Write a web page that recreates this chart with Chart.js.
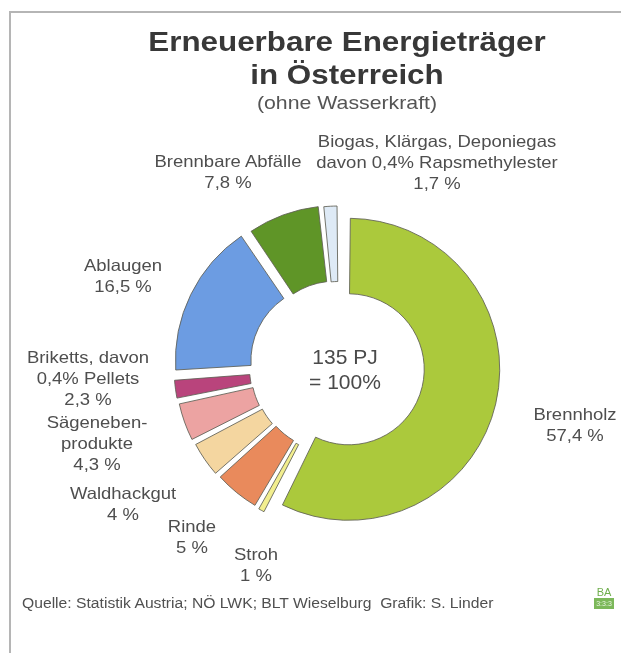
<!DOCTYPE html>
<html lang="de">
<head>
<meta charset="utf-8">
<title>Erneuerbare Energieträger in Österreich</title>
<script src="https://cdn.jsdelivr.net/npm/chart.js@4.4.1/dist/chart.umd.min.js"></script>
<style>
  html, body { margin: 0; padding: 0; background: #fff; }
  #wrap { position: relative; width: 621px; height: 653px; overflow: hidden;
          font-family: "Liberation Sans", Arial, sans-serif; color: #4e4e4e; }
  #frame { position: absolute; left: 9px; top: 11px; width: 640px; height: 660px;
           border-top: 2px solid #b5b5b5; border-left: 2px solid #b5b5b5; }
  canvas { position: absolute; left: 0; top: 0; }
  .wide { position: absolute; white-space: pre; text-align: center;
          transform: translateX(-50%) scaleX(1.12); }
  #title { left: 347px; top: 25px; font-size: 28px; font-weight: bold; line-height: 33px; color: #383838; }
  #subtitle { left: 347px; top: 92px; font-size: 19px; line-height: 22px; color: #555; }
  .lbl { font-size: 16.5px; line-height: 21px; }
  #center { position: absolute; left: 345px; top: 344px; transform: translateX(-50%);
            font-size: 21px; line-height: 25px; text-align: center; white-space: pre; color: #4a4a4a; }
  #source { position: absolute; left: 22px; top: 594px; font-size: 14px; line-height: 18px;
            white-space: pre; transform-origin: left center; transform: scaleX(1.12); color: #505050; }
  #logo { position: absolute; left: 594px; top: 586px; width: 20px; text-align: center; }
  #logo .ba { font-size: 11px; line-height: 12px; color: #6fae4c; }
  #logo .box { height: 11px; background: #7cb85a; color: #e8f4df; font-size: 7px; line-height: 11px; }
</style>
</head>
<body>
<div id="wrap">
  <div id="frame"></div>
  <canvas id="chart" width="621" height="653"></canvas>
  <div id="title" class="wide">Erneuerbare Energieträger
in Österreich</div>
  <div id="subtitle" class="wide">(ohne Wasserkraft)</div>
  <div id="center"></div>
  <div id="source">Quelle: Statistik Austria; NÖ LWK; BLT Wieselburg  Grafik: S. Linder</div>
  <div id="logo"><div class="ba">BA</div><div class="box">3:3:3</div></div>
</div>
<script>
// data, clockwise from 12 o'clock
const categories = [
  'Brennholz',
  'Stroh',
  'Rinde',
  'Waldhackgut',
  'Sägeneben-\nprodukte',
  'Briketts, davon\n0,4% Pellets',
  'Ablaugen',
  'Brennbare Abfälle',
  'Biogas, Klärgas, Deponiegas\ndavon 0,4% Rapsmethylester'
];
const shares = [57.4, 1, 5, 4, 4.3, 2.3, 16.5, 7.8, 1.7];
const totalText = ['135 PJ', '= 100%'];

// styling / layout
const colors = ['#abc93c', '#f2ee8e', '#e98a5c', '#f4d6a0', '#eca3a2', '#b9447c', '#6c9ce2', '#5f9527', '#deeaf6'];
const pull = [10, 12, 11, 12, 13, 14, 14, 11, 10];   // how far each slice sticks out (px)
const labelAt = [[575, 414], [256, 554], [192, 526], [123, 493], [97, 422], [88, 357], [123, 265], [228, 161], [437, 141]];

const fmt = v => String(v).replace('.', ',') + ' %';

// labels around the ring
const wrap = document.getElementById('wrap');
categories.forEach((name, i) => {
  const d = document.createElement('div');
  d.className = 'wide lbl';
  d.textContent = name + '\n' + fmt(shares[i]);
  d.style.left = labelAt[i][0] + 'px';
  d.style.top = (labelAt[i][1] - 10.5) + 'px';
  wrap.appendChild(d);
});
document.getElementById('center').textContent = totalText.join('\n');

// chart.js grows the radius of an offset arc, undo that so the ring keeps its width
const keepRing = {
  id: 'keepRing',
  afterDatasetUpdate(chart, args) {
    args.meta.data.forEach((arc, i) => {
      const t = pull[i];
      const fix = 1 - Math.sin(Math.min(Math.PI, arc.circumference || 0));
      arc.outerRadius -= t * fix;
      arc.innerRadius -= t * fix;
    });
  }
};

const ctx = document.getElementById('chart').getContext('2d');
new Chart(ctx, {
  type: 'doughnut',
  data: {
    labels: categories,
    datasets: [{
      data: shares,
      backgroundColor: colors,
      borderColor: 'rgba(95,95,85,0.85)',
      borderWidth: 1,
      offset: pull.map(p => p * 4)
    }]
  },
  options: {
    responsive: false,
    animation: false,
    radius: 151,
    cutout: '50%',
    layout: { padding: { left: 57, right: 0, top: 100, bottom: 19 } },
    plugins: {
      legend: { display: false },
      tooltip: { enabled: false }
    }
  },
  plugins: [keepRing]
});
</script>
</body>
</html>
